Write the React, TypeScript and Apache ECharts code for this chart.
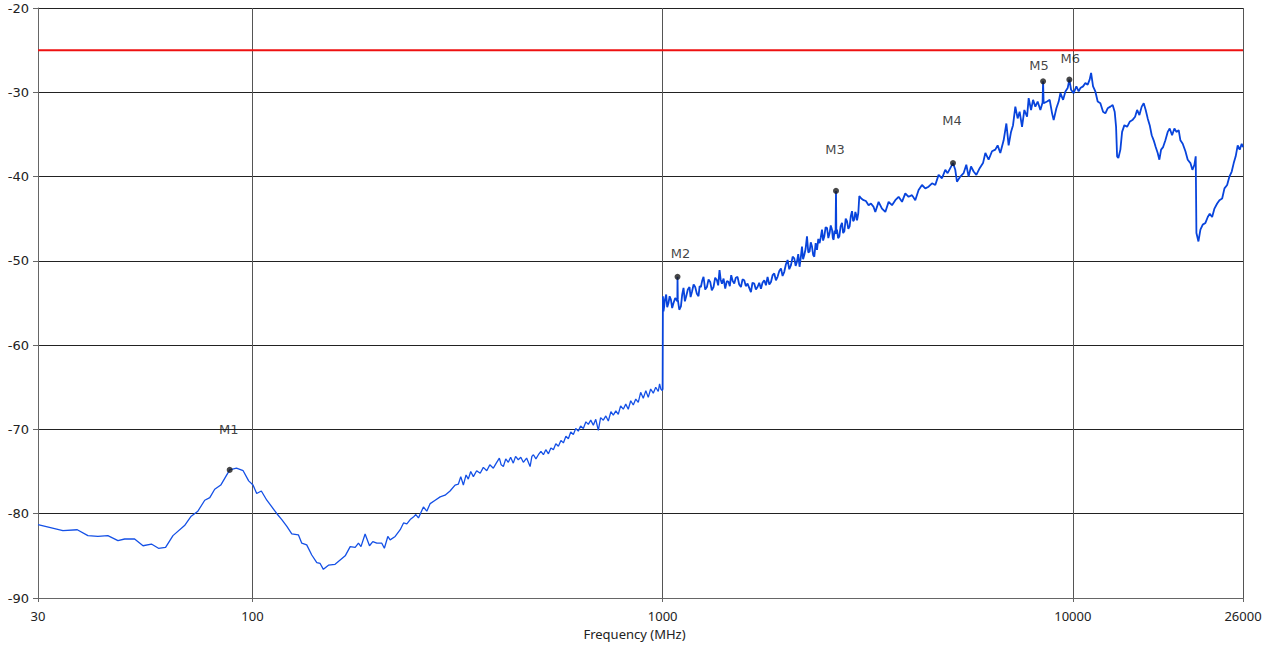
import React, { useEffect, useRef } from "react";
import * as echarts from "echarts";

// Measured trace, [frequency MHz, level dB]
const traceLowBand: [number, number][] = [
  [30, -81.3], [34.5, -82.0], [37.4, -81.9], [39.7, -82.6], [42.0, -82.7], [44.4, -82.6], [47.0, -83.2],
  [48.8, -83.0], [51.6, -83.0], [54.1, -83.8], [56.7, -83.6], [59.0, -84.1], [61.4, -84.0], [64.0, -82.6],
  [68.3, -81.4], [70.9, -80.3], [73.6, -79.7], [76.5, -78.4], [78.7, -78.1], [80.9, -77.1], [83.7, -76.6],
  [88.0, -74.8], [91.4, -74.6], [94.9, -74.9], [97.9, -76.1], [100.3, -76.6], [102.4, -77.6], [105.1, -77.3],
  [108.4, -78.4], [111.5, -79.2], [114.7, -80.0], [117.9, -80.7], [121.3, -81.5], [124.7, -82.4], [129.4, -82.5],
  [131.9, -83.5], [135.6, -83.7], [139.5, -84.9], [143.5, -85.8], [146.2, -85.9], [148.9, -86.6], [153.2, -86.1],
  [159.0, -86.0], [163.6, -85.5], [168.3, -85.0], [173.1, -83.9], [178.0, -84.0], [181.3, -83.5], [183.9, -83.9],
  [188.2, -82.4], [192.9, -83.8], [196.5, -83.3], [201.0, -83.5], [206.7, -83.5], [209.7, -84.1], [213.8, -82.7],
  [216.6, -83.1], [222.8, -82.7], [229.2, -81.9], [233.5, -81.1], [237.9, -81.2], [242.4, -80.7], [246.8, -80.4],
  [250.2, -80.1], [253.9, -80.5], [261.1, -79.2], [266.1, -79.7], [271.2, -78.8], [278.9, -78.4], [286.8, -78.0],
  [294.8, -77.8], [303.2, -77.3], [311.8, -76.6], [317.6, -76.5], [322.0, -75.6], [326.7, -76.6], [331.7, -75.4],
  [335.9, -75.9], [340.5, -75.0], [345.6, -75.6], [352.0, -74.9], [359.1, -75.2], [365.5, -74.5], [372.6, -74.9],
  [379.0, -74.2], [386.6, -74.6], [393.0, -74.0], [399.9, -73.4], [404.0, -74.2], [409.0, -74.4], [414.5, -73.5],
  [420.5, -73.9], [426.0, -73.3], [432.4, -74.0], [438.0, -73.2], [444.7, -73.6], [451.0, -73.3], [457.5, -73.9],
  [466.0, -73.4], [475.2, -74.4], [480.0, -73.2], [484.2, -73.0], [491.0, -73.5], [497.9, -73.0], [505.0, -72.6],
  [512.1, -73.0], [519.0, -72.4], [526.7, -72.9], [534.0, -72.2], [541.6, -72.4], [549.0, -71.7], [557.0, -72.0],
  [565.0, -71.3], [572.8, -71.6], [581.0, -70.8], [589.1, -71.1], [597.0, -70.3], [605.8, -70.6], [614.0, -69.9],
  [623.0, -70.2], [631.0, -69.6], [640.7, -69.9], [650.0, -69.1], [659.0, -69.4], [668.0, -68.9], [677.7, -69.5],
  [687.0, -68.8], [697.0, -70.1], [706.0, -68.6], [716.8, -68.9], [727.0, -68.4], [737.2, -69.0], [748.0, -67.9],
  [758.2, -68.3], [769.0, -67.8], [779.6, -68.2], [790.0, -67.2], [801.8, -67.6], [813.0, -67.0], [824.6, -67.6],
  [836.0, -66.6], [848.1, -67.1], [860.0, -66.4], [872.2, -66.8], [884.0, -65.6], [897.0, -66.3], [910.0, -65.4],
  [922.5, -66.2], [935.0, -65.2], [948.8, -65.7], [962.0, -65.0], [975.8, -65.5], [983.0, -64.6], [990.0, -65.2],
  [998.0, -65.4], [1000.0, -65.3],
];

const traceHighBand: [number, number][] = [
  [1001.6, -54.2], [1005.0, -56.0], [1008.8, -55.4], [1013.0, -54.6], [1020.2, -54.0], [1026.0, -55.5],
  [1033.5, -55.0], [1040.0, -54.2], [1047.6, -54.6], [1055.0, -55.6], [1063.0, -55.0], [1073.2, -54.4],
  [1086.0, -54.8], [1087.2, -51.9], [1089.0, -54.6], [1098.0, -55.8], [1108.2, -55.4], [1116.0, -54.0],
  [1124.4, -53.2], [1133.0, -54.8], [1141.6, -54.2], [1152.0, -53.4], [1162.8, -53.1], [1170.0, -54.3],
  [1178.7, -53.7], [1190.0, -52.8], [1200.6, -53.1], [1212.0, -53.9], [1223.2, -54.2], [1231.0, -53.0],
  [1239.6, -53.1], [1248.0, -52.4], [1258.0, -51.9], [1270.0, -53.4], [1282.3, -53.1], [1294.0, -52.2],
  [1306.2, -52.5], [1318.0, -53.5], [1330.8, -53.1], [1343.0, -52.0], [1356.5, -52.3], [1366.0, -52.9],
  [1376.3, -51.1], [1385.0, -52.2], [1395.1, -52.7], [1408.0, -52.1], [1421.1, -53.3], [1434.0, -52.4],
  [1447.8, -52.5], [1458.0, -53.0], [1469.6, -51.7], [1482.0, -52.4], [1494.9, -52.7], [1508.0, -52.0],
  [1522.7, -51.9], [1537.0, -52.8], [1552.1, -53.1], [1566.0, -52.2], [1581.2, -52.3], [1595.0, -53.0],
  [1610.6, -52.7], [1626.0, -53.2], [1641.7, -53.7], [1656.0, -52.6], [1672.3, -52.7], [1688.0, -53.4],
  [1703.8, -53.1], [1720.0, -52.6], [1736.6, -53.3], [1752.0, -52.6], [1769.0, -52.3], [1786.0, -52.9],
  [1802.3, -51.9], [1820.0, -52.8], [1837.1, -52.5], [1854.0, -51.7], [1871.2, -51.5], [1889.0, -52.3],
  [1906.5, -51.9], [1925.0, -51.2], [1943.3, -50.9], [1961.0, -51.8], [1979.5, -51.3], [1998.0, -50.4],
  [2016.7, -49.9], [2036.0, -51.0], [2055.6, -50.5], [2075.0, -49.5], [2093.9, -49.7], [2110.0, -50.6],
  [2125.9, -50.1], [2141.0, -49.2], [2157.0, -50.7], [2172.0, -49.6], [2186.5, -48.3], [2200.0, -49.8],
  [2214.9, -49.3], [2231.0, -48.6], [2248.8, -47.1], [2265.0, -49.0], [2281.7, -48.9], [2297.0, -47.8],
  [2312.9, -48.3], [2328.0, -49.3], [2343.0, -49.5], [2361.0, -47.9], [2378.9, -48.7], [2396.0, -47.4],
  [2413.7, -47.9], [2430.0, -47.2], [2446.7, -46.3], [2462.0, -47.6], [2478.5, -47.1], [2497.0, -46.0],
  [2516.4, -46.1], [2535.0, -47.3], [2553.2, -46.7], [2570.0, -45.8], [2588.2, -46.3], [2600.0, -47.3],
  [2611.5, -47.5], [2625.0, -46.4], [2640.0, -46.8], [2646.6, -41.7], [2652.0, -46.8], [2661.4, -46.3],
  [2678.0, -47.3], [2696.6, -47.1], [2716.0, -45.9], [2737.3, -45.5], [2755.0, -46.7], [2773.4, -46.5],
  [2795.0, -45.0], [2815.2, -45.3], [2836.0, -46.2], [2857.0, -45.9], [2876.0, -44.7], [2895.4, -44.1],
  [2914.0, -45.3], [2933.0, -45.1], [2950.0, -44.2], [2966.3, -44.6], [2978.0, -45.2], [2988.2, -44.8],
  [3000.0, -44.3], [3016.5, -42.3], [3050.0, -42.6], [3090.3, -42.8], [3130.0, -42.9], [3177.9, -43.4],
  [3220.0, -43.2], [3268.4, -43.6], [3300.0, -44.2], [3361.5, -43.0], [3426.0, -43.8], [3491.0, -44.2],
  [3556.0, -43.0], [3624.0, -43.4], [3692.0, -42.8], [3761.0, -42.4], [3834.0, -43.0], [3905.0, -42.0],
  [3978.0, -42.4], [4055.0, -42.2], [4130.0, -42.8], [4208.0, -41.6], [4289.0, -41.0], [4369.0, -41.4],
  [4451.0, -41.2], [4537.0, -40.8], [4621.0, -41.0], [4708.0, -39.8], [4798.0, -40.2], [4888.0, -39.2],
  [4952.0, -39.6], [5027.0, -39.0], [5104.0, -38.4], [5170.0, -39.2], [5219.0, -40.6], [5318.0, -40.0],
  [5417.0, -39.6], [5500.0, -38.6], [5572.0, -40.0], [5648.0, -38.8], [5731.0, -39.4], [5819.0, -39.8],
  [5929.0, -39.0], [6041.0, -38.4], [6121.0, -37.2], [6234.0, -38.0], [6354.0, -37.0], [6473.0, -36.8],
  [6558.0, -36.3], [6657.0, -37.2], [6783.0, -35.7], [6887.0, -33.7], [6976.0, -36.3], [7070.0, -34.7],
  [7150.0, -33.9], [7243.0, -31.7], [7337.0, -33.1], [7420.0, -32.3], [7521.0, -34.1], [7619.0, -32.1],
  [7736.0, -32.9], [7806.0, -30.7], [7911.0, -32.1], [8001.0, -30.9], [8104.0, -31.7], [8210.0, -31.1],
  [8336.0, -32.1], [8440.0, -31.2], [8464.0, -28.7], [8490.0, -31.3], [8655.0, -31.1], [8784.0, -30.9],
  [8902.0, -32.5], [8982.0, -33.3], [9120.0, -31.9], [9238.0, -31.1], [9328.0, -30.1], [9471.0, -30.9],
  [9594.0, -29.9], [9716.0, -29.5], [9809.0, -28.5], [9904.0, -29.7], [10049.0, -30.1], [10202.0, -29.3],
  [10335.0, -29.9], [10435.0, -29.5], [10593.0, -29.3], [10733.0, -28.9], [10872.0, -29.1], [10993.0, -28.5],
  [11082.0, -27.7], [11205.0, -29.3], [11350.0, -29.9], [11500.0, -31.1], [11674.0, -31.3], [11852.0, -32.3],
  [12006.0, -32.5], [12162.0, -31.9], [12349.0, -31.7], [12509.0, -31.5], [12651.0, -32.3], [12750.0, -34.1],
  [12823.0, -37.6], [12916.0, -37.8], [13062.0, -36.8], [13189.0, -34.7], [13360.0, -33.9], [13565.0, -34.1],
  [13763.0, -33.5], [13974.0, -33.3], [14188.0, -32.9], [14349.0, -32.1], [14535.0, -32.7], [14724.0, -31.7],
  [14891.0, -31.3], [15057.0, -32.1], [15227.0, -33.1], [15400.0, -33.9], [15575.0, -35.1], [15748.0, -35.7],
  [15927.0, -36.5], [16106.0, -37.2], [16259.0, -38.0], [16417.0, -36.8], [16603.0, -36.5], [16818.0, -35.7],
  [17037.0, -34.7], [17230.0, -34.3], [17462.0, -35.1], [17689.0, -34.3], [17889.0, -34.7], [18121.0, -34.5],
  [18297.0, -35.7], [18535.0, -36.1], [18819.0, -37.0], [19063.0, -38.0], [19355.0, -38.4], [19571.0, -39.2],
  [19793.0, -38.6], [19939.0, -37.6], [20017.0, -46.7], [20245.0, -47.7], [20471.0, -46.3], [20741.0, -45.7],
  [21055.0, -45.5], [21333.0, -44.8], [21571.0, -44.4], [21865.0, -44.8], [22149.0, -43.8], [22489.0, -43.2],
  [22781.0, -42.8], [23130.0, -42.6], [23430.0, -41.4], [23784.0, -41.0], [24093.0, -40.0], [24406.0, -39.4],
  [24680.0, -38.4], [24955.0, -37.6], [25238.0, -36.3], [25524.0, -36.8], [25813.0, -36.1], [26000.0, -36.5],
];

const markerNames = ["M1", "M2", "M3", "M4", "M5", "M6"];
const markerFreqs = [88.0, 1087.2, 2646.6, 5104, 8464, 9809];
const markerLevels = [-74.8, -51.9, -41.7, -38.4, -28.7, -28.5];

const limitLevel = -25;
const xMin = 30;
const xMax = 26000;
const yMin = -90;
const yMax = -20;
const yStep = 10;
const xAxisTitle = "Frequency (MHz)";

// label placement (styling, not data)
const markerLabelGap = [31, 14, 32, 33, 6, 12];
const markerLabelDx = [-1, 3, -1, -1, -4, 1];

export default function App() {
  const ref = useRef<HTMLDivElement>(null);
  useEffect(() => {
    if (!ref.current) return;
    const chart = echarts.init(ref.current, undefined, { renderer: "svg" });
    const lastLow = traceLowBand[traceLowBand.length - 1];
    const highWithJoin = [lastLow, ...traceHighBand];
    const markers = markerNames.map((n, i) => ({
      name: n,
      value: [markerFreqs[i], markerLevels[i]],
      label: { distance: markerLabelGap[i], offset: [markerLabelDx[i], 0] },
    }));
    chart.setOption({
      animation: false,
      backgroundColor: "#ffffff",
      grid: { left: 38, right: 31, top: 8, bottom: 50 },
      xAxis: {
        type: "log",
        logBase: 10,
        min: xMin,
        max: xMax,
        name: xAxisTitle,
        nameLocation: "middle",
        nameGap: 29,
        nameTextStyle: { fontFamily: "Noto Sans", fontSize: 13, color: "#222", padding: [0, 12, 0, 0] },
        axisLine: { show: true, lineStyle: { color: "#666", width: 1 } },
        axisTick: { show: true, length: 4, lineStyle: { color: "#666" } },
        axisLabel: {
          fontFamily: "Noto Sans",
          fontSize: 13,
          color: "#222",
          margin: 11,
          formatter: (v: number) => String(Math.round(v)),
        },
        splitLine: { show: true, lineStyle: { color: "#555", width: 1 } },
      },
      yAxis: {
        type: "value",
        min: yMin,
        max: yMax,
        interval: yStep,
        axisLine: { show: true, lineStyle: { color: "#666", width: 1 } },
        axisTick: { show: true, length: 5, lineStyle: { color: "#666" } },
        axisLabel: { fontFamily: "DejaVu Sans", fontSize: 13, color: "#222", margin: 9 },
        splitLine: { show: true, lineStyle: { color: "#222", width: 1 } },
      },
      series: [
        {
          type: "line",
          data: [[xMin, limitLevel], [xMax, limitLevel]],
          symbol: "none",
          lineStyle: { color: "#ee1111", width: 2 },
          silent: true,
          z: 3,
        },
        {
          type: "line",
          data: traceLowBand,
          symbol: "none",
          lineStyle: { color: "#1450e6", width: 1.3 },
          silent: true,
          z: 4,
        },
        {
          type: "line",
          data: highWithJoin,
          symbol: "none",
          lineStyle: { color: "#0844dc", width: 1.8 },
          silent: true,
          z: 4,
        },
        {
          type: "scatter",
          data: markers,
          symbolSize: 6,
          itemStyle: { color: "#1a1a1a" },
          label: {
            show: true,
            position: "top",
            formatter: (p: any) => p.name,
            fontFamily: "DejaVu Sans",
            fontSize: 13,
            color: "#111",
          },
          z: 5,
        },
      ],
    });
    return () => chart.dispose();
  }, []);
  return (
    <div
      ref={ref}
      style={{ position: "fixed", left: 0, top: 0, width: 1274, height: 648, background: "#fff" }}
    />
  );
}
